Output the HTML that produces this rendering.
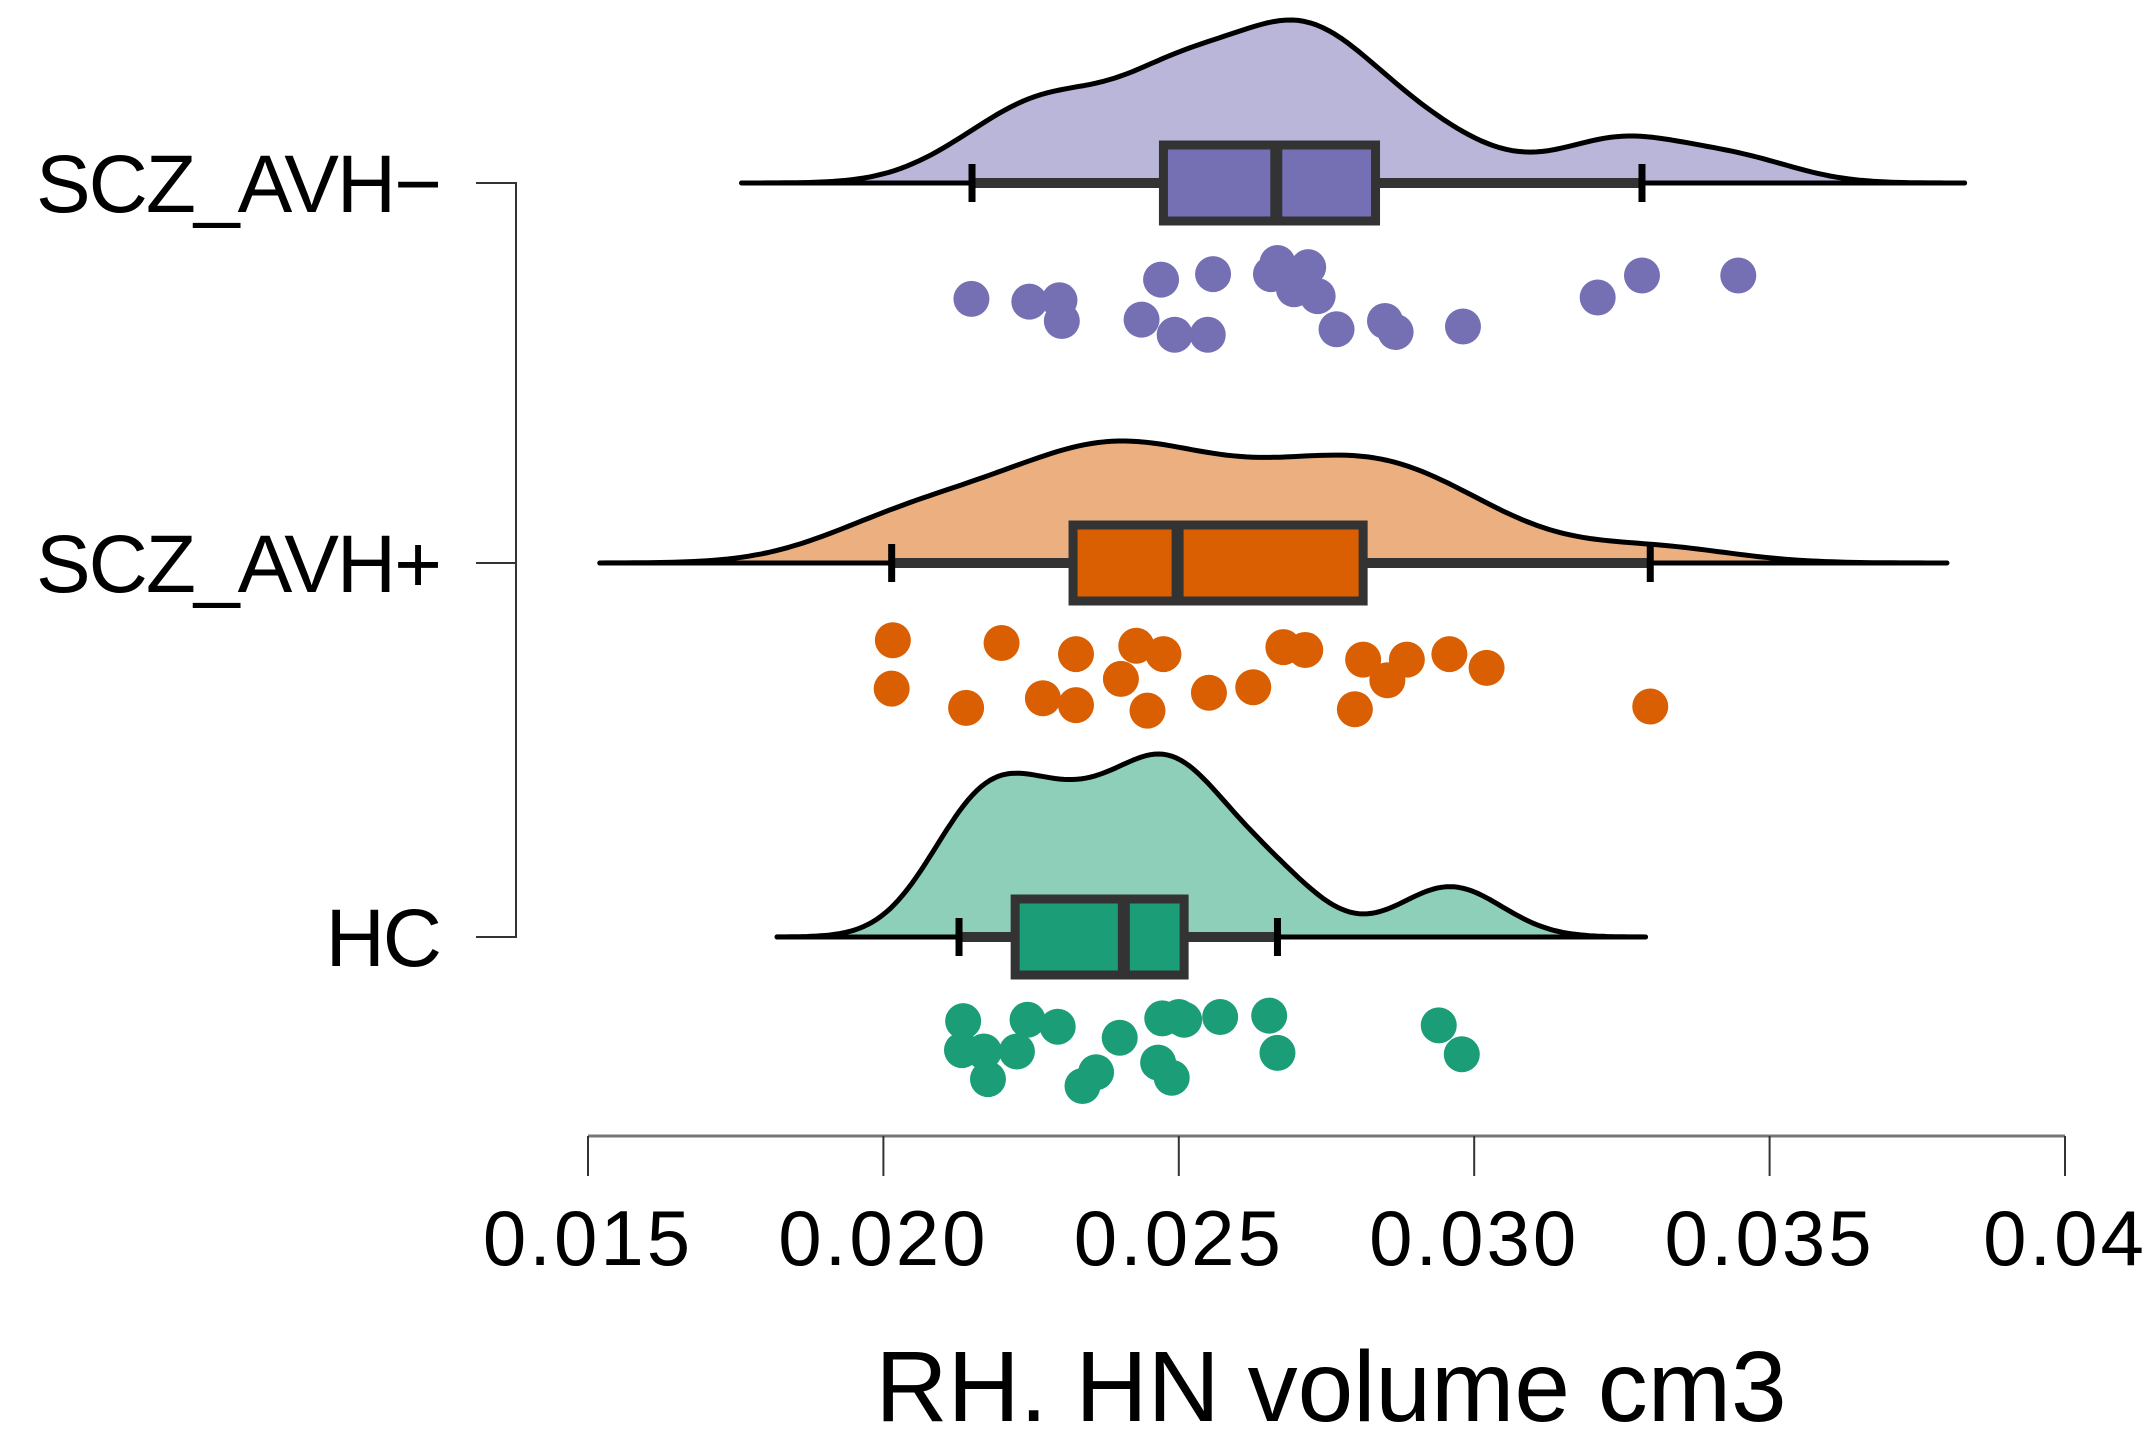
<!DOCTYPE html>
<html><head><meta charset="utf-8"><style>
html,body{margin:0;padding:0;background:#fff;}
svg{display:block;}
text{font-family:"Liberation Sans","DejaVu Sans",sans-serif;fill:#000;}
</style></head><body>
<svg id="chart" width="2152" height="1454" viewBox="0 0 2152 1454" xmlns="http://www.w3.org/2000/svg">
<g id="axes"></g>
<g id="plot"></g>
</svg>
<script>
const groups = ["SCZ_AVH\u2212", "SCZ_AVH+", "HC"];
const xTicks = [0.015, 0.020, 0.025, 0.030, 0.035, 0.04];
const xTickLabels = ["0.015", "0.020", "0.025", "0.030", "0.035", "0.04"];
const valuesSczMinus = [0.02149,0.02247,0.02298,0.02302,0.02437,0.02470,0.02493,0.02549,0.02558,0.02656,0.02667,0.02695,0.02719,0.02735,0.02767,0.02849,0.02867,0.02981,0.03209,0.03284,0.03447];
const jitterSczMinus = [84,86,85,100,99,70,110,110,66,66,58,77,61,82,106,100,108,104,83,67,67];
const valuesSczPlus = [0.02016,0.02200,0.02326,0.02428,0.02474,0.02677,0.02714,0.02812,0.02886,0.02958,0.03021,0.02853,0.02402,0.02014,0.02140,0.02270,0.02326,0.02447,0.02551,0.02626,0.02798,0.03298];
const jitterSczPlus = [56,58,66,60,66,61,63,70,70,66,76,85,84,91,105,98,103,107,94,90,106,104];
const valuesHC = [0.02135,0.02244,0.02295,0.02133,0.02170,0.02226,0.02177,0.02400,0.02472,0.02500,0.02509,0.02570,0.02653,0.02465,0.02488,0.02360,0.02337,0.02667,0.02940,0.02979];
const jitterHC = [61,60,65,82,83,83,103,73,59,58,60,58,57,91,102,98,108,84,64,85];
const boxSczMinus = [0.02150, 0.02474, 0.02665, 0.02833, 0.03284];
const boxSczPlus = [0.02014, 0.02321, 0.02498, 0.02812, 0.03298];
const boxHC = [0.02128, 0.02223, 0.02407, 0.02509, 0.02667];
const densityRangeSczMinus = [0.0176, 0.0383];
const densityRangeSczPlus = [0.0152, 0.0380];
const densityRangeHC = [0.0182, 0.0329];
const bandwidths = [0.00100, 0.00135, 0.00085];

const NS = "http://www.w3.org/2000/svg";
const X0 = 588, X1 = 2065, V0 = 0.015, V1 = 0.04;
function xScale(v){ return X0 + (v - V0) / (V1 - V0) * (X1 - X0); }
const baselines = [183, 563, 937];
const peakHeights = [163, 122, 183];
const jitterScale = 1.38;
const colors = ["#7570b3", "#d95f02", "#1b9e77"];
const fills = ["#b9b6d9", "#ecaf80", "#8ecfba"];

function mk(tag, attrs, parent){ const e = document.createElementNS(NS, tag); for (const k in attrs) e.setAttribute(k, attrs[k]); parent.appendChild(e); return e; }
const axes = document.getElementById('axes');
const plot = document.getElementById('plot');

let ax = mk('line', {x1:xScale(V0), x2:xScale(V1), y1:1136, y2:1136, stroke:'#777', 'stroke-width':3}, axes);


xTicks.forEach((t, i) => {
  const tk = mk('line', {x1:xScale(t), x2:xScale(t), y1:1136, y2:1176, stroke:'#333', 'stroke-width':2}, axes);
  
  
  const lb = mk('text', {x:xScale(t), y:1265, 'text-anchor':'middle', 'font-size':78, 'letter-spacing':3}, axes);
  lb.textContent = xTickLabels[i];
  
  
});
const xt = mk('text', {x:1331, y:1421, 'text-anchor':'middle', 'font-size':100}, axes);
xt.textContent = "RH. HN volume cm3";



const yl = mk('line', {x1:516, x2:516, y1:baselines[0], y2:baselines[2], stroke:'#333', 'stroke-width':2}, axes);


groups.forEach((g, i) => {
  const tk = mk('line', {x1:476, x2:517, y1:baselines[i], y2:baselines[i], stroke:'#333', 'stroke-width':2}, axes);
  
  
  const lb = mk('text', {x:440, y:baselines[i] + 29, 'text-anchor':'end', 'font-size':82, 'letter-spacing':-2}, axes);
  lb.textContent = g;
  
  
});

const allValues = [valuesSczMinus, valuesSczPlus, valuesHC];
const allJitter = [jitterSczMinus, jitterSczPlus, jitterHC];
const allBoxes = [boxSczMinus, boxSczPlus, boxHC];
const allRanges = [densityRangeSczMinus, densityRangeSczPlus, densityRangeHC];

allValues.forEach((vals, gi) => {
  const base = baselines[gi];
  const bw = bandwidths[gi];
  const [r0, r1] = allRanges[gi];
  const N = 200, pts = [];
  let maxD = 0;
  for (let k = 0; k <= N; k++) {
    const v = r0 + (r1 - r0) * k / N;
    let d = 0;
    vals.forEach(p => { const z = (v - p) / bw; d += Math.exp(-0.5 * z * z); });
    pts.push([v, d]); if (d > maxD) maxD = d;
  }
  let dstr = `M${xScale(r0)},${base}`;
  pts.forEach(([v, d]) => { dstr += ` L${xScale(v).toFixed(1)},${(base - d / maxD * peakHeights[gi]).toFixed(1)}`; });
  dstr += ` L${xScale(r1)},${base} Z`;
  const den = mk('path', {d:dstr, fill:fills[gi], stroke:'#000', 'stroke-width':5, 'stroke-linejoin':'round'}, plot);
  
  
  const bl = mk('line', {x1:xScale(r0), x2:xScale(r1), y1:base, y2:base, stroke:'#000', 'stroke-width':5, 'stroke-linecap':'round'}, plot);
  
  

  const b = allBoxes[gi];
  const wl = mk('line', {x1:xScale(b[0]), x2:xScale(b[4]), y1:base, y2:base, stroke:'#333', 'stroke-width':10}, plot);
  
  
  [b[0], b[4]].forEach(w => {
    const cap = mk('line', {x1:xScale(w), x2:xScale(w), y1:base - 19, y2:base + 19, stroke:'#000', 'stroke-width':7}, plot);
    
    
  });
  const bx = mk('rect', {x:xScale(b[1]), y:base - 38, width:xScale(b[3]) - xScale(b[1]), height:76, fill:colors[gi], stroke:'#333', 'stroke-width':9}, plot);
  
  
  const md = mk('line', {x1:xScale(b[2]), x2:xScale(b[2]), y1:base - 38, y2:base + 38, stroke:'#333', 'stroke-width':12}, plot);
  
  

  vals.forEach((v, i) => {
    const c = mk('circle', {cx:xScale(v), cy:base + allJitter[gi][i] * jitterScale, r:18, fill:colors[gi]}, plot);
    
    
  });
});
</script>
</body></html>
